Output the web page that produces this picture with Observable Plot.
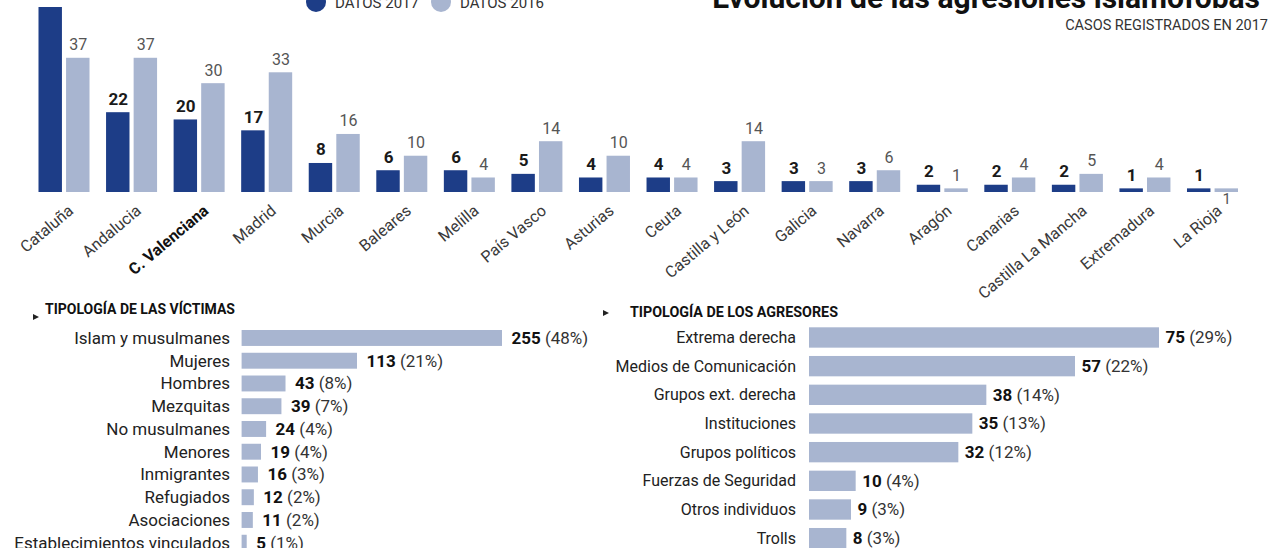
<!DOCTYPE html>
<html><head><meta charset="utf-8">
<script src="https://cdn.jsdelivr.net/npm/d3@7"></script>
<script src="https://cdn.jsdelivr.net/npm/@observablehq/plot@0.6"></script>
<style>
html,body{margin:0;padding:0;background:#fff;}
#root{position:relative;width:1280px;height:548px;overflow:hidden;background:#fff;font-family:Roboto,"Noto Sans",sans-serif;color:#222;}
.abs{position:absolute;white-space:nowrap;line-height:1;}
</style></head><body><div id="root"></div>
<script>
const FONT = 'Roboto, "Noto Sans", sans-serif';
const DARK = "#1d3d87", LIGHT = "#a8b5d0";

// ---- data ----
const regiones = ["Cataluña","Andalucia","C. Valenciana","Madrid","Murcia","Baleares","Melilla","País Vasco","Asturias","Ceuta","Castilla y León","Galicia","Navarra","Aragón","Canarias","Castilla La Mancha","Extremadura","La Rioja"];
const datos2017 = [51,22,20,17,8,6,6,5,4,4,3,3,3,2,2,2,1,1];
const datos2016 = [37,37,30,33,16,10,4,14,10,4,14,3,6,1,4,5,4,1];
const series = ["DATOS 2017","DATOS 2016"];
const regionDestacada = "C. Valenciana";

const victimas = ["Islam y musulmanes","Mujeres","Hombres","Mezquitas","No musulmanes","Menores","Inmigrantes","Refugiados","Asociaciones","Establecimientos vinculados"];
const victimasCasos = [255,113,43,39,24,19,16,12,11,5];
const victimasPct = [48,21,8,7,4,4,3,2,2,1];

const agresores = ["Extrema derecha","Medios de Comunicación","Grupos ext. derecha","Instituciones","Grupos políticos","Fuerzas de Seguridad","Otros individuos","Trolls"];
const agresoresCasos = [75,57,38,35,32,10,9,8];
const agresoresPct = [29,22,14,13,12,4,3,3];

const titulo = "Evolución de las agresiones islamófobas";
const subtitulo = "CASOS REGISTRADOS EN 2017";
const tituloVictimas = "TIPOLOGÍA DE LAS VÍCTIMAS";
const tituloAgresores = "TIPOLOGÍA DE LOS AGRESORES";

// ---- helpers ----
const root = document.getElementById("root");
function placeSvg(svg, left, topPx, width) {
  const d = document.createElement("div");
  d.className = "abs";
  d.style.left = left + "px"; d.style.top = topPx + "px"; d.style.width = width + "px";
  d.appendChild(svg); root.appendChild(d);
}
function label(text, o) {
  const d = document.createElement("div");
  d.className = "abs"; d.textContent = text;
  d.style.fontSize = o.size + "px"; d.style.fontWeight = o.weight || 400; d.style.color = o.color || "#222";
  d.style.top = (o.baseline - 0.842 * o.size) + "px";
  if (o.left != null) d.style.left = o.left + "px"; else d.style.right = o.right + "px";
  root.appendChild(d);
}
function dot(cx, cy, r, color) {
  const d = document.createElement("div");
  d.className = "abs";
  Object.assign(d.style, {left:(cx-r)+"px", top:(cy-r)+"px", width:2*r+"px", height:2*r+"px", borderRadius:"50%", background:color});
  root.appendChild(d);
}
function tri(left, midY) {
  const d = document.createElement("div");
  d.className = "abs";
  Object.assign(d.style, {left:left+"px", top:(midY-3.5)+"px", width:0, height:0, borderLeft:"6px solid #222", borderTop:"3.5px solid transparent", borderBottom:"3.5px solid transparent"});
  root.appendChild(d);
}
const svgStyle = `background:transparent;max-width:none;overflow:visible;font-family:${FONT};color:#222;`;

// ---- header ----
label(titulo, {right: 20, baseline: 8, size: 30, weight: 700, color: "#111"});
label(subtitulo, {right: 12, baseline: 31.7, size: 14.5, color: "#333"});
dot(315.5, 2, 10, DARK);
label(series[0], {left: 335, baseline: 8.3, size: 15, color: "#333"});
dot(440.5, 2, 10, LIGHT);
label(series[1], {left: 460, baseline: 8.3, size: 15, color: "#333"});

// ---- top grouped bar chart ----
const filas = regiones.flatMap((r, i) => [
  {region: r, serie: series[0], value: datos2017[i]},
  {region: r, serie: series[1], value: datos2016[i]}
]);
const chartRegiones = Plot.plot({
  width: 1280, height: 352,
  marginTop: 47, marginBottom: 120, marginLeft: 38.5, marginRight: 42,
  style: svgStyle,
  fx: {domain: regiones, paddingInner: 0.245, paddingOuter: 0, round: false, axis: null},
  x: {domain: series, paddingInner: 0.15, paddingOuter: 0, round: false, axis: null},
  y: {domain: [0, 51], axis: null},
  color: {domain: series, range: [DARK, LIGHT]},
  marks: [
    Plot.barY(filas, {fx: "region", x: "serie", y: "value", fill: "serie"}),
    Plot.text(filas.filter(d => d.serie === series[0]), {fx: "region", x: "serie", y: "value", text: d => String(d.value), lineAnchor: "bottom", dy: -8, fontSize: 17, fontWeight: "bold", fill: "#1a1a1a"}),
    Plot.text(filas.filter(d => d.serie === series[1] && d.region !== "La Rioja"), {fx: "region", x: "serie", y: "value", text: d => String(d.value), lineAnchor: "bottom", dy: -8, fontSize: 16, fill: "#555"}),
    Plot.text(filas.filter(d => d.serie === series[1] && d.region === "La Rioja"), {fx: "region", x: "serie", y: "value", text: d => String(d.value), lineAnchor: "top", dy: 4, fontSize: 15, fill: "#555"}),
    Plot.text(regiones.filter(r => r !== regionDestacada), {fx: d => d, text: d => d, frameAnchor: "bottom", rotate: -40, textAnchor: "end", dx: 10, dy: 20, fontSize: 16, fill: "#3a3a3a"}),
    Plot.text([regionDestacada], {fx: d => d, text: d => d, frameAnchor: "bottom", rotate: -40, textAnchor: "end", dx: 10, dy: 20, fontSize: 16, fontWeight: "bold", fill: "#111"})
  ]
});
placeSvg(chartRegiones, 0, -40, 1280);

// ---- horizontal bar charts ----
function hbar(o) {
  const data = o.names.map((n, i) => ({name: n, value: o.vals[i], pct: o.pcts[i]}));
  const marginBottom = 20;
  const height = o.marginTop + o.step * o.names.length + marginBottom;
  const svg = Plot.plot({
    width: o.width, height, marginLeft: o.marginLeft, marginRight: o.width - o.xEnd, marginTop: o.marginTop, marginBottom,
    style: svgStyle,
    x: {domain: [0, o.max], axis: null},
    y: {domain: o.names, paddingInner: o.pad, paddingOuter: o.pad / 2, round: false},
    marks: [
      Plot.barX(data, {y: "name", x: "value", fill: LIGHT}),
      Plot.axisY({tickSize: 0, tickPadding: o.tickPadding, fontSize: o.fontSize, label: null, fill: "#222"}),
      Plot.text(data, {y: "name", x: "value", text: d => `${d.value} (${d.pct}%)`, textAnchor: "start", dx: o.dx, fontSize: o.valueSize, fill: "#222"})
    ]
  });
  svg.querySelectorAll('g[aria-label="text"] text').forEach(t => {
    const s = t.textContent, k = s.indexOf(" ");
    t.textContent = "";
    const a = document.createElementNS("http://www.w3.org/2000/svg", "tspan");
    a.setAttribute("font-weight", "bold"); a.setAttribute("fill", "#111"); a.textContent = s.slice(0, k);
    const b = document.createElementNS("http://www.w3.org/2000/svg", "tspan");
    b.setAttribute("fill", "#333"); b.textContent = s.slice(k);
    t.append(a, b);
  });
  placeSvg(svg, o.left, o.topPx, o.width);
}

tri(33, 317);
label(tituloVictimas, {left: 45, baseline: 314, size: 14, weight: 700, color: "#111"});
hbar({names: victimas, vals: victimasCasos, pcts: victimasPct, left: 0, topPx: 300, width: 640,
  marginLeft: 241.6, xEnd: 502, max: 255, marginTop: 26.6, step: 22.75, pad: 0.3,
  fontSize: 17, valueSize: 17, tickPadding: 12, dx: 9});

tri(603, 313.5);
label(tituloAgresores, {left: 630, baseline: 317, size: 14.3, weight: 700, color: "#111"});
hbar({names: agresores, vals: agresoresCasos, pcts: agresoresPct, left: 590, topPx: 300, width: 690,
  marginLeft: 219, xEnd: 569, max: 75, marginTop: 23.15, step: 28.67, pad: 0.29,
  fontSize: 16, valueSize: 17, tickPadding: 13.5, dx: 6});
</script></body></html>
